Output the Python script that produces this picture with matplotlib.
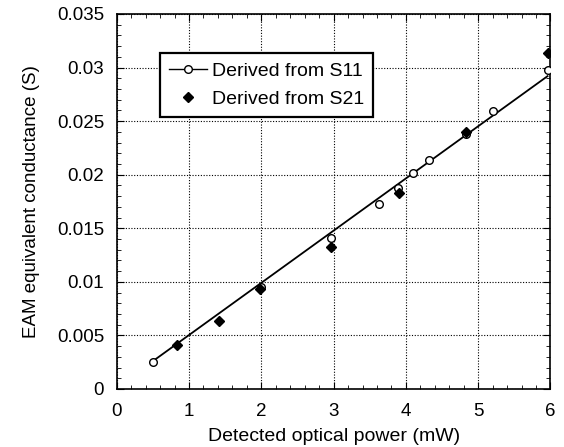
import numpy as np
import matplotlib.pyplot as plt
from matplotlib.ticker import MultipleLocator
from matplotlib.lines import Line2D

plt.rcParams['font.family'] = ['Liberation Sans', 'DejaVu Sans']

# S11-derived conductance (open circles)
p_s11 = [0.5, 2.0, 2.97, 3.63, 3.89, 4.10, 4.32, 4.83, 5.20, 5.96]
g_s11 = [0.00255, 0.0095, 0.01412, 0.01727, 0.01879, 0.02013, 0.0214, 0.02377, 0.02598, 0.02977]

# S21-derived conductance (filled diamonds)
p_s21 = [0.84, 1.41, 1.98, 2.97, 3.90, 4.83, 5.96]
g_s21 = [0.00411, 0.00632, 0.0093, 0.01325, 0.01826, 0.02401, 0.03132]

# straight fit line
fit_x = [0.5, 5.96]
fit_y = [0.0026, 0.0292]

yticks = [0, 0.005, 0.01, 0.015, 0.02, 0.025, 0.03, 0.035]
ylabels = ['0', '0.005', '0.01', '0.015', '0.02', '0.025', '0.03', '0.035']

fig = plt.figure(figsize=(5.64, 4.47), dpi=100)
ax = fig.add_axes([0.207, 0.1298, 0.769, 0.8389])

ax.plot(fit_x, fit_y, color='black', lw=1.3, zorder=2)
ax.plot(p_s11, g_s11, 'o', mfc='white', mec='black', ms=5.5, mew=1, zorder=3)
ax.plot(p_s21, g_s21, 'D', color='black', ms=4.8, zorder=4)

ax.set_xlim(0, 6)
ax.set_ylim(0, 0.035)
ax.xaxis.set_major_locator(MultipleLocator(1))
ax.xaxis.set_minor_locator(MultipleLocator(0.2))
ax.yaxis.set_minor_locator(MultipleLocator(0.001))
ax.set_yticks(yticks)
ax.set_yticklabels(ylabels)

ax.grid(True, which='major', color='black', linestyle=(0, (1, 1.5)), lw=0.8)
ax.tick_params(which='both', direction='in', top=True, right=True, labelsize=13.5, color='black')
ax.tick_params(which='major', length=5)
ax.tick_params(which='minor', length=3)
ax.tick_params(axis='x', pad=10)
ax.tick_params(axis='y', pad=9)
for s in ax.spines.values():
    s.set_linewidth(1.2)

ax.set_xlabel('Detected optical power (mW)', fontsize=14, labelpad=6)
ax.set_ylabel('EAM equivalent conductance (S)', fontsize=13.5, labelpad=12)

h1 = Line2D([], [], color='black', lw=1, marker='o', mfc='white', mec='black', ms=5.5)
h2 = Line2D([], [], ls='none', marker='D', color='black', ms=4.8)
leg = ax.legend([h1, h2], ['Derived from S11', 'Derived from S21'], loc='upper left',
                bbox_to_anchor=(0.10, 0.895), fontsize=14, fancybox=False, framealpha=1,
                edgecolor='black', handlelength=1.95, handletextpad=0.28, borderpad=0.45,
                labelspacing=0.55, borderaxespad=0)
leg.get_frame().set_linewidth(1.6)

fig.savefig('out.png', dpi=100)
